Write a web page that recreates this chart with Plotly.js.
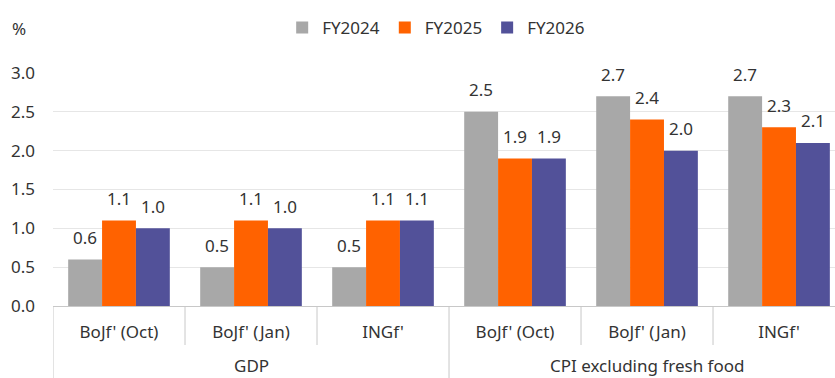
<!DOCTYPE html>
<html>
<head>
<meta charset="utf-8">
<script src="https://cdn.plot.ly/plotly-3.0.1.min.js"></script>
<style>html,body{margin:0;padding:0;overflow:hidden;background:#fff}</style>
</head>
<body>
<div id="chart" style="width:835px;height:378px"></div>
<script>
const groups = ["GDP", "GDP", "GDP", "CPI excluding fresh food", "CPI excluding fresh food", "CPI excluding fresh food"];
const forecasts = ["BoJf' (Oct)", "BoJf' (Jan)", "INGf'", "BoJf' (Oct)", "BoJf' (Jan)", "INGf'"];
const seriesNames = ["FY2024", "FY2025", "FY2026"];
const fy2024 = [0.6, 0.5, 0.5, 2.5, 2.7, 2.7];
const fy2025 = [1.1, 1.1, 1.1, 1.9, 2.4, 2.3];
const fy2026 = [1.0, 1.0, 1.1, 1.9, 2.0, 2.1];
const colors = ["#A8A8A8", "#FF6200", "#525199"];
const yTicks = [0, 0.5, 1.0, 1.5, 2.0, 2.5, 3.0];

const FONT = "Noto Sans, sans-serif";
const FS = 17;
const TXT = "#333333";
const LINE = "#C8C8C8";
const BARGAP = 0.23;

// unique category keys built from the two label levels
const keys = groups.map((g, i) => g + " | " + forecasts[i]);
const values = [fy2024, fy2025, fy2026];

const traces = values.map((v, k) => ({
  type: "bar",
  name: seriesNames[k],
  x: keys,
  y: v,
  marker: {color: colors[k], line: {width: 0}},
  hoverinfo: "skip"
}));

// value labels above each bar, positioned in the axis' category index space
const barW = (1 - BARGAP) / values.length;
const annotations = [];
values.forEach((v, k) => {
  v.forEach((val, i) => {
    annotations.push({
      xref: "x", yref: "y",
      x: i + (k - (values.length - 1) / 2) * barW,
      y: val,
      text: val.toFixed(1),
      showarrow: false, xanchor: "center", yanchor: "middle", yshift: 22,
      font: {family: FONT, size: FS, color: TXT}
    });
  });
});

// group (outer) labels and divider / boundary lines
const shapes = [];
const plotH = 233;
const fullLen = -(378 - 306) / plotH;
const shortLen = -(345 - 306) / plotH;
for (let i = 0; i <= keys.length; i++) {
  const newGroup = i === 0 || i === keys.length || groups[i] !== groups[i - 1];
  shapes.push({
    type: "line", xref: "x", yref: "paper",
    x0: i - 0.5, x1: i - 0.5, y0: 0, y1: newGroup ? fullLen : shortLen,
    line: {color: LINE, width: 1}
  });
}
const uniqueGroups = [...new Set(groups)];
uniqueGroups.forEach(g => {
  const idx = groups.map((gg, i) => gg === g ? i : -1).filter(i => i >= 0);
  const mid = (idx[0] + idx[idx.length - 1]) / 2;
  annotations.push({
    xref: "x", yref: "paper", x: mid, y: -(366 - 306) / plotH,
    text: g, showarrow: false, xanchor: "center", yanchor: "middle", borderpad: 0,
    font: {family: FONT, size: FS, color: TXT}
  });
});

annotations.push({
  text: "%", xref: "paper", yref: "paper", x: -43 / 782, y: 1 + 45 / plotH,
  xanchor: "left", yanchor: "middle", showarrow: false,
  font: {family: FONT, size: FS, color: TXT}
});

const layout = {
  width: 835, height: 378,
  margin: {l: 53, r: 0, t: 73, b: 72},
  paper_bgcolor: "#ffffff", plot_bgcolor: "#ffffff",
  font: {family: FONT, size: FS, color: TXT},
  barmode: "group",
  bargap: BARGAP, bargroupgap: 0,
  showlegend: true,
  legend: {orientation: "h", x: 0.49, xanchor: "center", y: 1 + 45 / plotH, yanchor: "middle",
           font: {family: FONT, size: FS, color: TXT}, itemwidth: 30, traceorder: "normal"},
  xaxis: {
    type: "category",
    range: [-0.5, 5.424],
    tickvals: keys, ticktext: forecasts,
    showgrid: false, zeroline: false,
    showline: true, linecolor: LINE, linewidth: 1,
    ticks: "", ticklabelstandoff: 11,
    tickfont: {family: FONT, size: FS, color: TXT}
  },
  yaxis: {
    range: [0, 3.0], tickvals: yTicks, ticktext: yTicks.map(t => t.toFixed(1)),
    showgrid: true, gridcolor: "#E6E6E6", gridwidth: 1,
    zeroline: false, showline: false, ticks: "",
    ticklabelstandoff: 17,
    tickfont: {family: FONT, size: FS, color: TXT}
  },
  annotations: annotations,
  shapes: shapes
};

Plotly.newPlot("chart", traces, layout, {displayModeBar: false, staticPlot: true});
</script>
</body>
</html>
